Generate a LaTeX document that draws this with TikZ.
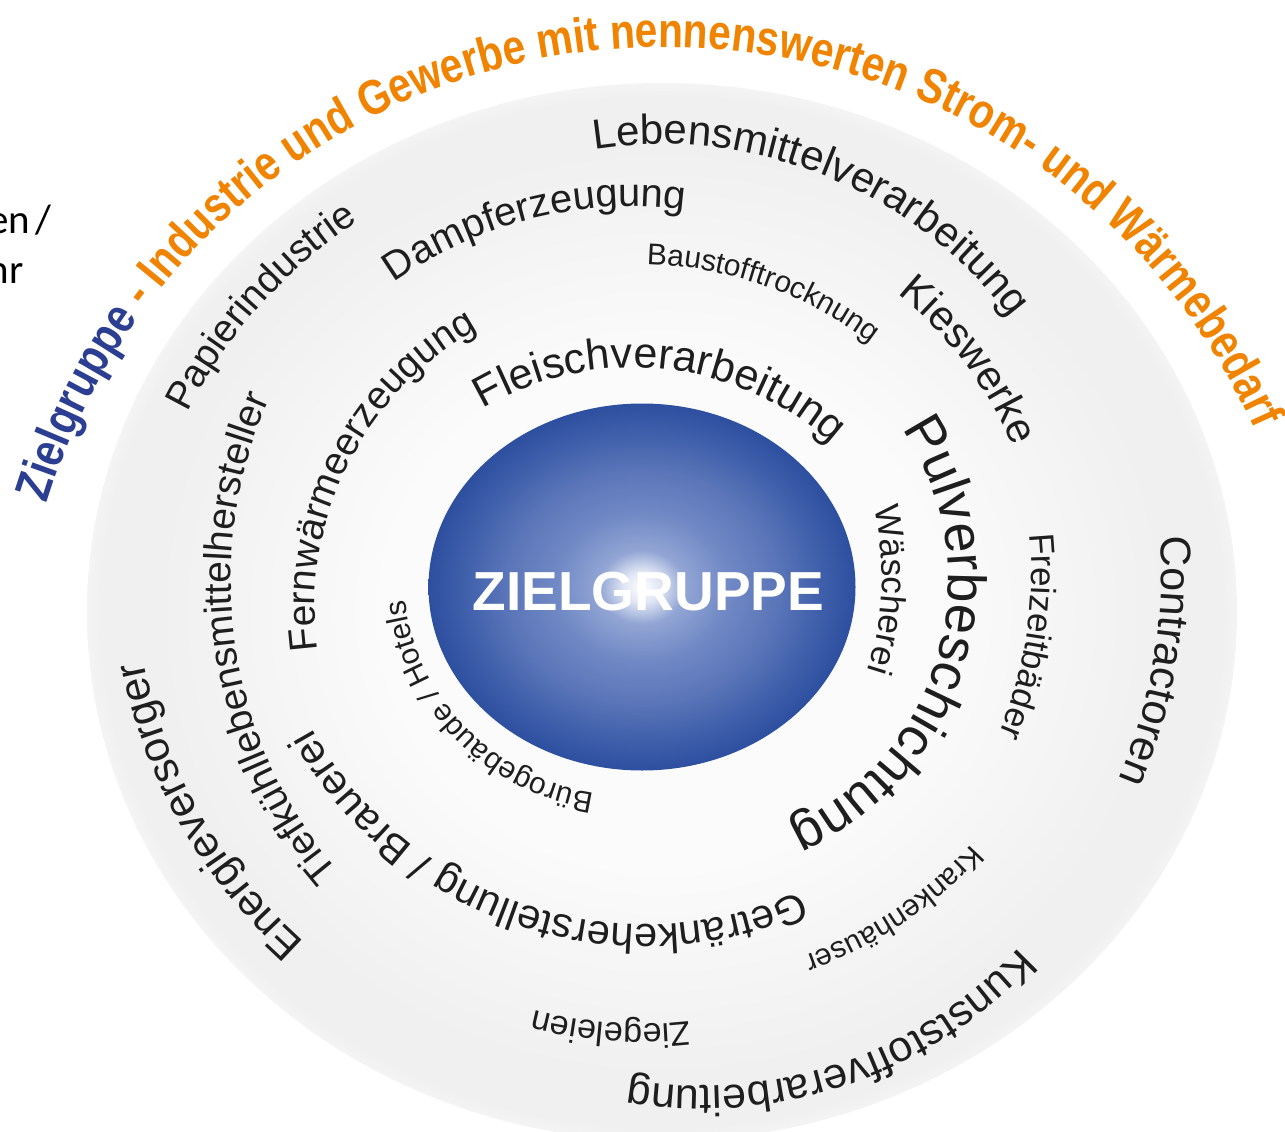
\documentclass[tikz,border=0pt]{standalone}
\usepackage{fontspec}
\setmainfont{Liberation Sans}
\newfontfamily\carlito{Carlito}
\newfontfamily\titlefont[FakeStretch=0.83]{Liberation Sans}
\usetikzlibrary{decorations.text,calc}
\definecolor{zorange}{HTML}{F08300}
\definecolor{zblue}{HTML}{2B3E91}
\definecolor{labelc}{HTML}{1E1E1E}
\definecolor{zb1}{HTML}{DFE5F3}
\definecolor{zb2}{HTML}{92A5D4}
\definecolor{zb3}{HTML}{7189C5}
\definecolor{zb4}{HTML}{5A75B8}
\definecolor{zb5}{HTML}{3F5FAB}
\definecolor{zb6}{HTML}{2D4F9F}
\definecolor{dk0}{HTML}{FBFBFB}
\definecolor{dk1}{HTML}{F0F0F0}
\definecolor{dk2}{HTML}{F4F4F4}
\pgfdeclareradialshading{discshade}{\pgfpoint{0bp}{0bp}}{color(0bp)=(dk0); color(12bp)=(dk0); color(22bp)=(dk1); color(24.4bp)=(dk1); color(25bp)=(dk2); color(50bp)=(white)}
\pgfdeclareradialshading{zball}{\pgfpoint{0bp}{0bp}}{color(0bp)=(white); color(2.2bp)=(zb1); color(5bp)=(zb2); color(10bp)=(zb3); color(16bp)=(zb4); color(21bp)=(zb5); color(25bp)=(zb6); color(50bp)=(zb6)}
% #1 cx, #2 cy (px, y down), #3 radius of middle line, #4 mx, #5 my (chord midpoint), #6 font size, #7 text
\newcommand\arclab[7]{%
  \path[decorate, decoration={text along path, text align=center,
     text={|\fontsize{#6}{#6}\selectfont\color{labelc}|#7}}]
   let \n1={atan2((#2)-(#5),(#4)-(#1))}, \n2={(#3)-0.26*(#6)} in
   (#1,-#2) ++(\n1+85:\n2) arc[start angle=\n1+85, end angle=\n1-85, radius=\n2];}
\begin{document}
\begin{tikzpicture}[x=1pt,y=1pt]
\useasboundingbox (0,-1132) rectangle (1285,0);
\fill[white] (0,-1132) rectangle (1285,0);
% outer disc
\shade[shading=discshade] (662,-612) ellipse [x radius=575, y radius=529];
% blue centre
\shade[shading=zball] (642,-587) ellipse [x radius=213.5, y radius=183.5];
\node[font=\fontsize{55}{55}\selectfont\bfseries, text=white, anchor=base, inner sep=0pt] (zg) at (648.5,-610) {ZIELGRUPPE};
% labels on arcs
\arclab{661.2}{582.3}{449}{808}{219.5}{42}{Lebensmittelverarbeitung}
\arclab{632.4}{617.6}{421.5}{536}{232}{40}{Dampferzeugung}
\arclab{637}{650.5}{394}{762}{295}{30}{Baustofftrocknung}
\arclab{657.5}{595}{396}{965.5}{362.5}{42}{Kieswerke}
\arclab{633.6}{665.5}{309}{659}{410}{43}{Fleischverarbeitung}
\arclab{628}{633}{502.4}{264}{309}{39}{Papierindustrie}
\arclab{633.5}{607.7}{329}{384}{483}{39}{Fernwärmeerzeugung}
\arclab{677.7}{580.4}{457}{291.5}{637}{39}{Tiefkühllebensmittelhersteller}
\arclab{642.8}{562.6}{519.7}{212.5}{808.5}{43}{Energieversorger}
\arclab{633.4}{572}{539}{1153}{660.5}{43}{Contractoren}
\arclab{623.8}{574.4}{416.6}{1024.5}{636}{35}{Freizeitbäder}
\arclab{585.6}{578}{305.7}{881}{589.5}{35}{Wäscherei}
\arclab{679}{581}{283.5}{870}{635}{54}{Pulverbeschichtung}
\arclab{668.5}{571}{415.6}{892.5}{907}{30}{Krankenhäuser}
\arclab{640.7}{595.9}{437}{611}{1026}{34}{Ziegeleien}
\arclab{701.9}{652.4}{444.8}{828.5}{1026.5}{43}{Kunststoffverarbeitung}
\arclab{645}{542.6}{392.5}{551.5}{823.5}{41.5}{Getränkeherstellung / Brauerei}
\arclab{625.7}{573}{230}{494.5}{701.5}{30}{Bürogebäude / Hotels}
% title
\path[decorate, decoration={text along path, text align=center,
   text={|\titlefont\fontsize{49}{49}\selectfont\bfseries\color{zblue}|Zielgruppe|\titlefont\fontsize{49}{49}\selectfont\bfseries\color{zorange}| - Industrie und Gewerbe mit nennenswerten Strom- und Wärmebedarf}}]
   (664.7,-693.1) ++(178.5:646) arc[start angle=178.5, end angle=8.5, radius=646];
% cut-off text at the left edge
\node[font=\carlito\fontsize{41}{41}\selectfont, anchor=base east, inner sep=0pt] (cut1) at (52,-233) {\spaceskip=6pt en /};
\node[font=\carlito\fontsize{41}{41}\selectfont, anchor=base east, inner sep=0pt] (cut2) at (24,-283) {hr};
\end{tikzpicture}
\end{document}
